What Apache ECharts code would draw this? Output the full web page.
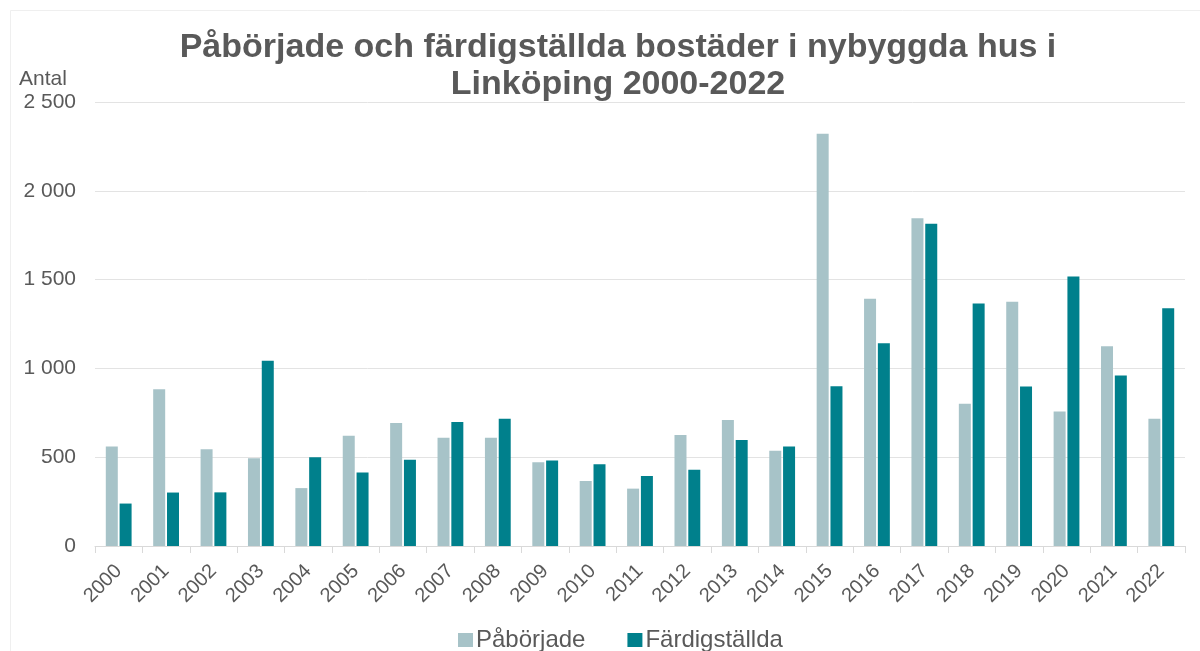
<!DOCTYPE html>
<html>
<head>
    <meta charset="utf-8">
    <title>Påbörjade och färdigställda bostäder</title>
    <script src="https://cdn.jsdelivr.net/npm/echarts@6/dist/echarts.min.js"></script>
    <style>
        html, body { margin: 0; padding: 0; background: #fff; }
        #main { width: 1200px; height: 651px; }
    </style>
</head>
<body>
<div id="main"></div>
<script>
    // år
    var years = ['2000', '2001', '2002', '2003', '2004', '2005', '2006', '2007', '2008', '2009', '2010', '2011',
        '2012', '2013', '2014', '2015', '2016', '2017', '2018', '2019', '2020', '2021', '2022'];
    // påbörjade bostäder
    var paborjade = [560, 883, 545, 494, 326, 621, 693, 610, 610, 472, 366, 323,
        625, 709, 536, 2321, 1392, 1846, 801, 1375, 757, 1125, 716];
    // färdigställda bostäder
    var fardigstallda = [239, 301, 302, 1043, 500, 414, 485, 698, 717, 482, 461, 394,
        429, 597, 560, 900, 1142, 1814, 1366, 898, 1518, 960, 1339];

    var textColor = '#595959';
    var font = '"Liberation Sans", Arial, sans-serif';

    // 2500 -> "2 500"
    function fmt(v) {
        return String(v).replace(/\B(?=(\d{3})+(?!\d))/g, ' ');
    }

    var myChart = echarts.init(document.getElementById('main'));
    var option = {
        animation: false,
        textStyle: { fontFamily: font },
        graphic: [
            { type: 'line', shape: { x1: 10.5, y1: 10.5, x2: 1200, y2: 10.5 }, style: { stroke: '#efefef', lineWidth: 1 } },
            { type: 'line', shape: { x1: 10.5, y1: 10.5, x2: 10.5, y2: 651 }, style: { stroke: '#efefef', lineWidth: 1 } }
        ],
        title: {
            text: 'Påbörjade och färdigställda bostäder i nybyggda hus i\nLinköping 2000-2022',
            left: 613,
            textAlign: 'center',
            top: 24,
            textStyle: {
                fontFamily: font,
                fontSize: 34,
                fontWeight: 'bold',
                color: textColor,
                lineHeight: 37
            }
        },
        legend: {
            top: 623,
            left: 453,
            itemWidth: 15,
            itemHeight: 14,
            itemGap: 42,
            icon: 'rect',
            textStyle: { fontSize: 24, color: textColor, fontFamily: font, padding: [0, 0, 0, -2] },
            data: ['Påbörjade', 'Färdigställda']
        },
        grid: {
            left: 95,
            right: 15,
            top: 102,
            bottom: 105,
            containLabel: false
        },
        xAxis: {
            type: 'category',
            data: years,
            axisLine: { lineStyle: { color: '#d9d9d9', width: 1 } },
            axisTick: { show: true, length: 7, lineStyle: { color: '#d9d9d9' } },
            axisLabel: {
                rotate: 45,
                color: textColor,
                fontSize: 20,
                margin: 22,
                fontFamily: font
            }
        },
        yAxis: {
            type: 'value',
            name: 'Antal',
            nameLocation: 'end',
            nameGap: 12,
            nameTextStyle: { color: textColor, fontSize: 21, align: 'left', padding: [0, 0, 0, -76], fontFamily: font },
            min: 0,
            max: 2500,
            interval: 500,
            axisLine: { show: false },
            axisTick: { show: false },
            axisLabel: {
                color: textColor,
                fontSize: 21,
                margin: 19,
                fontFamily: font,
                formatter: fmt
            },
            splitLine: { lineStyle: { color: '#e3e3e3', width: 1 } }
        },
        series: [
            {
                name: 'Påbörjade',
                type: 'bar',
                data: paborjade,
                barWidth: 12,
                barGap: '15%',
                itemStyle: { color: '#a7c3c8' }
            },
            {
                name: 'Färdigställda',
                type: 'bar',
                data: fardigstallda,
                barWidth: 12,
                barGap: '15%',
                itemStyle: { color: '#00808c' }
            }
        ]
    };
    myChart.setOption(option);
</script>
</body>
</html>
